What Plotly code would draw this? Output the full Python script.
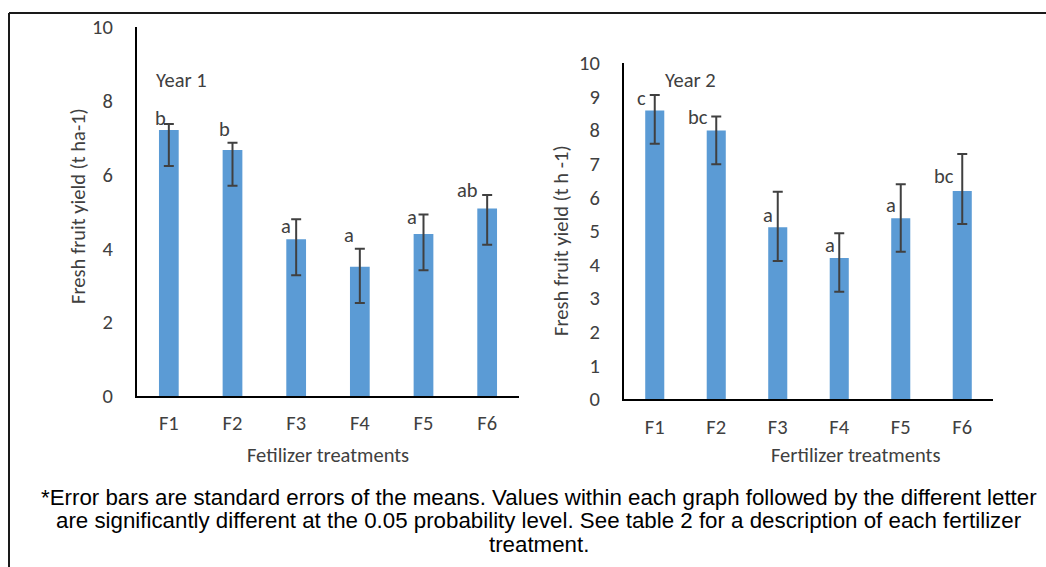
import plotly.graph_objects as go

W, H = 1046, 567

treatments = ["F1", "F2", "F3", "F4", "F5", "F6"]

# Year 1
year1_mean = [7.21, 6.67, 4.25, 3.50, 4.39, 5.08]
year1_err_plus = [0.16, 0.19, 0.54, 0.49, 0.53, 0.37]
year1_err_minus = [0.98, 0.97, 0.98, 0.98, 0.98, 0.98]
year1_letters = ["b", "b", "a", "a", "a", "ab"]

# Year 2
year2_mean = [8.59, 7.99, 5.11, 4.20, 5.38, 6.19]
year2_err_plus = [0.46, 0.42, 1.06, 0.73, 1.01, 1.10]
year2_err_minus = [0.99, 1.00, 1.00, 1.01, 1.00, 0.98]
year2_letters = ["c", "bc", "a", "a", "a", "bc"]

# label pixel offsets (style)
y1_dx = [-8, -8, -10, -11, -12, -20]
y1_dy = [6, 14, -7, 14, -3, 5]
y2_dx = [-13, -18, -10, -9, -10, -18]
y2_dy = [-3, -1, -23, -12, -21, -22]

BAR = "#5B9BD5"
ERR = "#404040"
TXT = "#404040"
FONT = "Carlito, Lato, Open Sans, sans-serif"
FS = 20.5


def px(x):
    return x / W


def py(y):
    return 1 - y / H


fig = go.Figure()

fig.add_trace(go.Bar(
    x=treatments, y=year1_mean, width=0.31, marker=dict(color=BAR, line=dict(width=0)),
    error_y=dict(type="data", symmetric=False, array=year1_err_plus,
                 arrayminus=year1_err_minus, color=ERR, thickness=2, width=5),
    xaxis="x", yaxis="y", showlegend=False, hoverinfo="skip"))

fig.add_trace(go.Bar(
    x=treatments, y=year2_mean, width=0.31, marker=dict(color=BAR, line=dict(width=0)),
    error_y=dict(type="data", symmetric=False, array=year2_err_plus,
                 arrayminus=year2_err_minus, color=ERR, thickness=2, width=5),
    xaxis="x2", yaxis="y2", showlegend=False, hoverinfo="skip"))

axis_common = dict(showgrid=False, zeroline=False, showline=True, linecolor="#000000",
                   linewidth=2, ticks="", automargin=False,
                   tickfont=dict(family=FONT, size=FS, color=TXT))

fig.update_layout(
    template="none",
    width=W, height=H, margin=dict(l=0, r=0, t=0, b=0, pad=0, autoexpand=False),
    autosize=False,
    paper_bgcolor="white", plot_bgcolor="white",
    xaxis=dict(domain=[px(137), px(519)], anchor="y", ticklabelstandoff=7, **axis_common),
    yaxis=dict(domain=[py(396), py(27)], anchor="x", range=[0, 10], dtick=2,
               ticklabelstandoff=18, **axis_common),
    xaxis2=dict(domain=[px(624), px(993)], anchor="y2", ticklabelstandoff=8, **axis_common),
    yaxis2=dict(domain=[py(399), py(63)], anchor="x2", range=[0, 10], dtick=1,
                ticklabelstandoff=18, **axis_common),
)

annotations = []
for i, t in enumerate(treatments):
    annotations.append(dict(x=t, y=year1_mean[i] + year1_err_plus[i], xref="x", yref="y",
                            text=year1_letters[i], showarrow=False, xshift=y1_dx[i],
                            yshift=y1_dy[i], xanchor="center", yanchor="middle",
                            font=dict(family=FONT, size=FS, color=TXT)))
    annotations.append(dict(x=t, y=year2_mean[i] + year2_err_plus[i], xref="x2", yref="y2",
                            text=year2_letters[i], showarrow=False, xshift=y2_dx[i],
                            yshift=y2_dy[i], xanchor="center", yanchor="middle",
                            font=dict(family=FONT, size=FS, color=TXT)))

text_items = [
    ("Year 1", 154, 80, "left", 0),
    ("Year 2", 663, 80, "left", 0),
    ("Fetilizer treatments", 328, 455, "center", 0),
    ("Fertilizer treatments", 855, 455, "center", 0),
    ("Fresh fruit yield (t ha-1)", 78, 206, "center", -90),
    ("Fresh fruit yield (t h -1)", 561, 241, "center", -90),
]
for txt, x, y, anchor, ang in text_items:
    annotations.append(dict(x=px(x), y=py(y), xref="paper", yref="paper", text=txt,
                            showarrow=False, xanchor=anchor, yanchor="middle", textangle=ang,
                            font=dict(family=FONT, size=FS, color=TXT)))

footnote = ["*Error bars are standard errors of the means. Values within each graph followed by the different letter",
            "are significantly different at the 0.05 probability level. See table 2 for a description of each fertilizer",
            "treatment."]
for j, line in enumerate(footnote):
    annotations.append(dict(x=px(539), y=py(497 + 23.5 * j), xref="paper", yref="paper",
                            text=line, showarrow=False, xanchor="center", yanchor="middle",
                            font=dict(family="Liberation Sans Narrow, Arial Narrow, Liberation Sans, Arial",
                                      size=22.3, color="#000000")))

fig.update_layout(annotations=annotations)

fig.add_shape(type="line", xref="paper", yref="paper", x0=px(9), y0=0, x1=px(9), y1=py(13),
              line=dict(color="#1a1a1a", width=2))
fig.add_shape(type="line", xref="paper", yref="paper", x0=px(9), y0=py(13), x1=1, y1=py(13),
              line=dict(color="#1a1a1a", width=2))

fig.write_html("out.html")
